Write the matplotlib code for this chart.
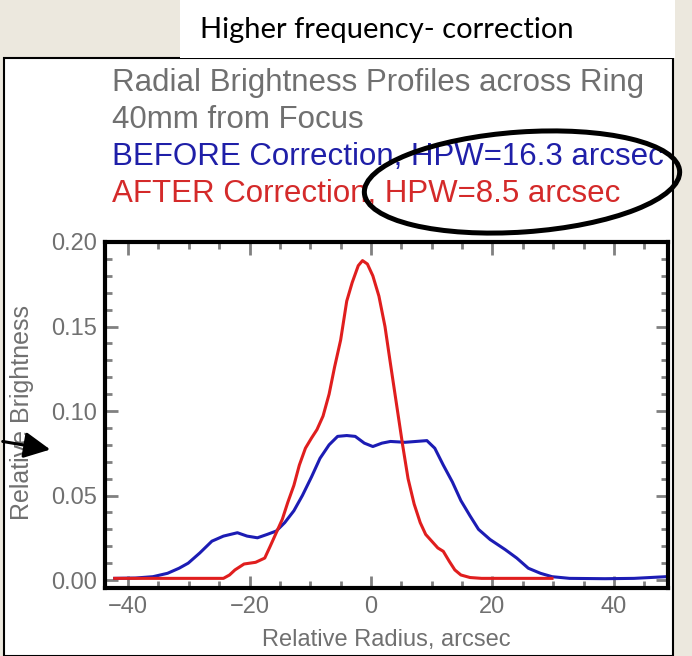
import numpy as np
import matplotlib
matplotlib.use('Agg')
import matplotlib.pyplot as plt
from matplotlib.patches import Rectangle, Ellipse, FancyArrowPatch
from matplotlib.ticker import MultipleLocator

# radial profile before correction (blue)
before_x = [-42.2, -38.8, -35.9, -33.5, -31.6, -30.1, -28.2, -26.2, -24.3, -22.0,
            -20.4, -18.7, -17.1, -15.6, -14.2, -12.7, -11.3, -9.8, -8.4, -6.9,
            -5.5, -4.0, -2.6, -1.1, 0.3, 1.8, 3.2, 5.6, 9.2, 10.5,
            11.9, 13.4, 14.8, 16.3, 17.7, 19.6, 22.1, 24.0, 25.9, 27.9,
            29.8, 32.7, 38.5, 43.3, 48.6]
before_y = [0.001, 0.0012, 0.002, 0.004, 0.007, 0.010, 0.016, 0.023, 0.026, 0.028,
            0.026, 0.025, 0.027, 0.029, 0.034, 0.041, 0.050, 0.061, 0.072, 0.080,
            0.085, 0.0855, 0.085, 0.081, 0.079, 0.081, 0.082, 0.0815, 0.0825, 0.078,
            0.068, 0.058, 0.047, 0.038, 0.030, 0.024, 0.018, 0.013, 0.007, 0.004,
            0.002, 0.001, 0.0008, 0.001, 0.002]

# radial profile after correction (red)
after_x = [-42.2, -29.1, -24.3, -23.3, -22.4, -20.9, -19.0, -17.5, -16.6, -15.6,
           -14.6, -13.7, -12.7, -11.8, -10.8, -9.8, -8.9, -7.9, -6.9, -6.0,
           -5.0, -4.0, -3.1, -2.1, -1.4, -0.6, 0.3, 1.3, 2.3, 3.2,
           4.2, 5.2, 6.1, 7.1, 8.1, 9.0, 10.0, 11.0, 11.9, 12.9,
           13.8, 14.8, 16.3, 18.2, 24.0, 29.8]
after_y = [0.001, 0.001, 0.001, 0.003, 0.006, 0.0095, 0.0105, 0.013, 0.020, 0.028,
           0.036, 0.046, 0.056, 0.068, 0.078, 0.084, 0.089, 0.097, 0.110, 0.126,
           0.142, 0.165, 0.176, 0.186, 0.189, 0.187, 0.180, 0.168, 0.150, 0.128,
           0.104, 0.080, 0.060, 0.045, 0.034, 0.027, 0.023, 0.019, 0.017, 0.011,
           0.006, 0.003, 0.0015, 0.001, 0.001, 0.001]

x_ticks = [-40, -20, 0, 20, 40]
y_ticks = [0.00, 0.05, 0.10, 0.15, 0.20]

title_lines = ['Radial Brightness Profiles across Ring', '40mm from Focus',
               'BEFORE Correction, HPW=16.3 arcsec', 'AFTER Correction, HPW=8.5 arcsec']
title_colors = ['#707070', '#707070', '#1f1fa8', '#d42a2a']

W, H = 692, 656
fig = plt.figure(figsize=(W / 100, H / 100), dpi=100, facecolor='#ece8de')


def fx(px):
    return px / W


def fy(py):
    return 1 - py / H


# slide panel and heading box
fig.add_artist(Rectangle((fx(4), 0), fx(673) - fx(4), fy(58), transform=fig.transFigure,
                         facecolor='white', edgecolor='black', linewidth=1.5, zorder=-5))
fig.add_artist(Rectangle((fx(180), fy(58)), fx(675) - fx(180), 1 - fy(58) + 0.01,
                         transform=fig.transFigure, facecolor='white', edgecolor='none', zorder=-4))
fig.text(fx(200), fy(30), 'Higher frequency- correction', fontsize=21, family='Lato',
         color='black', va='center', ha='left')

for i, (line, col) in enumerate(zip(title_lines, title_colors)):
    fig.text(fx(112), fy(83 + 37 * i), line, fontsize=22.5, family='Liberation Sans',
             color=col, va='center', ha='left')

ax = fig.add_axes([fx(105), fy(588), fx(668) - fx(105), fy(242) - fy(588)])
ax.plot(before_x, before_y, color='#1c1cb4', lw=2.2)
ax.plot(after_x, after_y, color='#e01e1e', lw=2.2)
ax.set_xlim(-43.8, 48.9)
ax.set_ylim(-0.0047, 0.2)
ax.set_xticks(x_ticks)
ax.set_yticks(y_ticks)
ax.set_xticklabels(['\u221240', '\u221220', '0', '20', '40'])
ax.set_yticklabels([f'{v:.2f}' for v in y_ticks])
ax.xaxis.set_minor_locator(MultipleLocator(5))
ax.yaxis.set_minor_locator(MultipleLocator(0.01))
ax.tick_params(which='both', direction='in', top=True, right=True, color='#808080',
               labelcolor='#707070', labelsize=17, pad=6)
ax.tick_params(which='major', length=9, width=2)
ax.tick_params(which='minor', length=5, width=2)
for lab in ax.get_xticklabels() + ax.get_yticklabels():
    lab.set_family('Liberation Sans')
for sp in ax.spines.values():
    sp.set_linewidth(3)
    sp.set_color('black')

fig.text(fx(386), fy(640), 'Relative Radius, arcsec', fontsize=17, family='Liberation Sans',
         color='#707070', ha='center', va='center')
fig.text(fx(22), fy(412), 'Relative Brightness', fontsize=18, family='Liberation Sans',
         color='#707070', ha='center', va='center', rotation=90)

# annotations drawn on the slide
fig.add_artist(Ellipse((5.22, (H - 182) / 100), 3.16, 1.0, angle=4,
                       transform=fig.dpi_scale_trans, fill=False,
                       edgecolor='black', linewidth=3.6, zorder=10))
fig.add_artist(FancyArrowPatch((fx(0), fy(441)), (fx(53), fy(450)), transform=fig.transFigure,
                               arrowstyle='-|>,head_length=8,head_width=4', color='black',
                               linewidth=2.2, mutation_scale=2, zorder=10))

fig.savefig('out.png', dpi=100, facecolor=fig.get_facecolor())
